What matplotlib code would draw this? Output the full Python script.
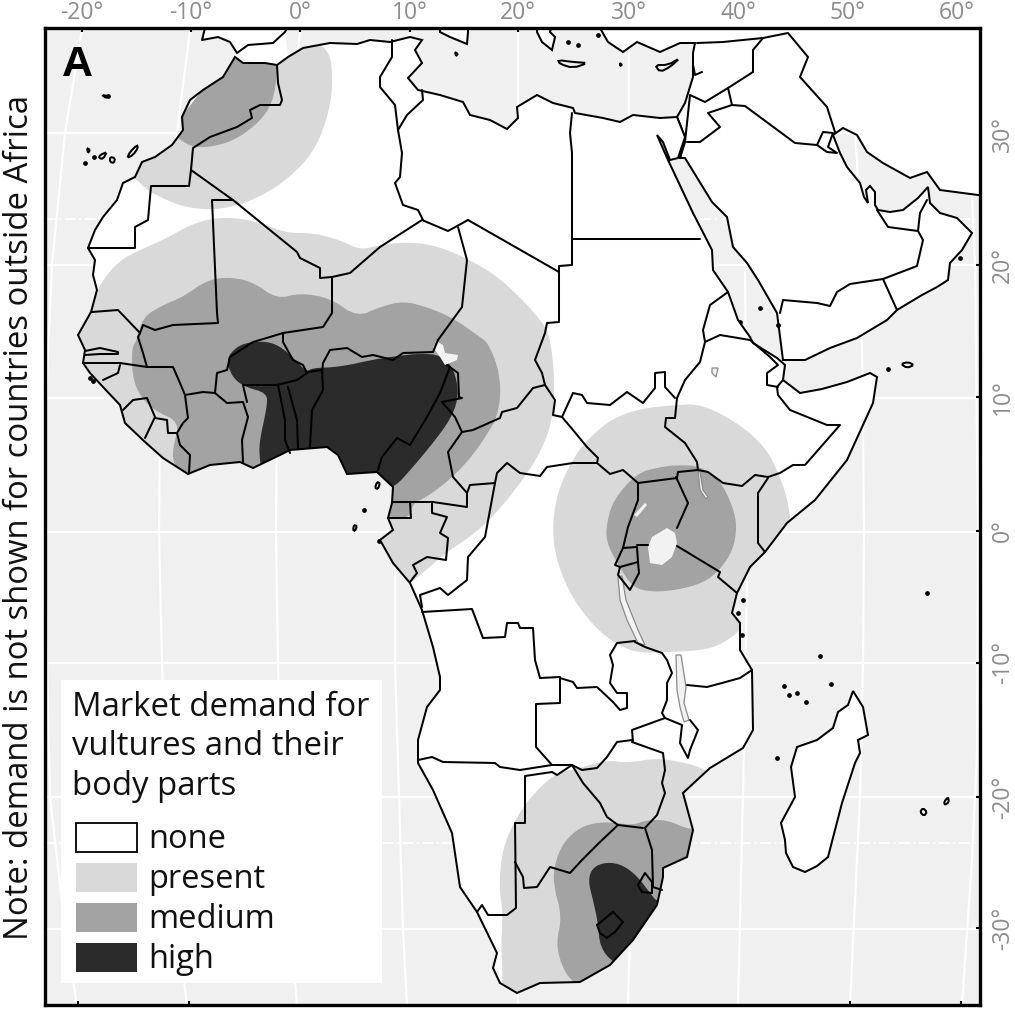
import matplotlib
matplotlib.use("Agg")
import matplotlib.pyplot as plt
from matplotlib.patches import Polygon, Rectangle

plt.rcParams['font.family'] = ['Open Sans', 'DejaVu Sans']

# ---------- map geometry, in the map's projected units (x east, y south) ----------
lon_labels = ['-20°', '-10°', '0°', '10°', '20°', '30°', '40°', '50°', '60°']
lon_top = [82, 191, 300, 410, 518, 629, 738, 847, 957]
lon_bottom = [78, 189, 300, 410, 518, 629, 738, 850, 961]
lat_labels = ['30°', '20°', '10°', '0°', '-10°', '-20°', '-30°']
lat_pos = [134, 265, 397, 531, 663, 797, 928]

meridians = [
    [(82, 30), (65, 133), (52, 265), (46, 397), (45, 532), (47, 663), (50, 797), (65, 929), (77, 1005)],
    [(190, 30), (177, 133), (166, 265), (160, 398), (159, 532), (162, 663), (168, 797), (178, 929), (187, 1005)],
    [(300, 30), (290, 133), (282, 265), (277, 398), (276, 532), (278, 663), (283, 797), (290, 929), (297, 1005)],
    [(410, 30), (400, 133), (395, 530), (395, 663), (403, 930), (407, 1005)],
    [(518, 30), (518, 1005)],
    [(629, 30), (629, 530), (630, 933), (628, 1005)],
    [(742, 30), (745, 263), (747, 580), (743, 793), (738, 1005)],
    [(847, 30), (857, 160), (862, 340), (864, 530), (863, 663), (860, 797), (850, 1005)],
    [(957, 30), (972, 197), (975, 263), (978, 530), (977, 753), (972, 860), (962, 1005)],
]
parallels = [133, 265, 398, 532, 663, 797, 929]
tropics = [219, 843]

coast_mediterranean = [(235, 57), (243, 63), (265, 63), (277, 65), (288, 57), (303, 48), (330, 43), (357, 44),
    (370, 40), (390, 42), (410, 37), (422, 40), (415, 50), (422, 63), (408, 78), (418, 90), (440, 95), (463, 102),
    (470, 115), (490, 120), (507, 129), (518, 118), (517, 107), (537, 95), (553, 103), (573, 108), (575, 113),
    (603, 118), (620, 122), (633, 115), (660, 118), (677, 117)]
coast_africa = [(235, 57), (223, 77), (203, 90), (190, 100), (182, 117), (183, 130), (172, 145), (155, 157), (142, 162),
    (135, 177), (123, 183), (117, 200), (103, 217), (95, 230), (88, 248), (95, 260), (93, 275), (97, 290), (91, 312),
    (78, 335), (85, 350), (83, 363), (90, 373), (103, 387), (120, 405), (125, 423), (145, 442), (163, 458), (188, 474),
    (210, 465), (240, 462), (253, 468), (280, 455), (290, 450), (327, 447), (338, 455), (347, 474), (377, 472),
    (393, 487), (392, 503), (388, 518), (393, 530), (380, 540), (393, 563), (410, 583), (422, 610), (433, 647),
    (440, 677), (440, 690), (427, 707), (418, 740), (418, 763), (433, 790), (452, 833), (460, 887), (477, 912),
    (497, 953), (493, 968), (500, 983), (517, 993), (540, 983), (580, 982), (610, 965), (633, 940), (657, 905),
    (663, 877), (663, 868), (687, 857), (693, 830), (683, 793), (710, 768), (743, 748), (753, 730), (752, 670),
    (740, 650), (740, 623), (732, 613), (737, 593), (750, 567), (765, 552), (787, 523), (815, 500), (847, 460),
    (873, 403), (877, 377), (870, 373), (847, 382), (822, 389), (800, 393), (783, 380), (785, 365), (777, 358),
    (753, 343), (750, 337), (738, 320), (728, 292), (713, 270), (712, 250), (693, 213), (668, 160), (657, 135),
    (663, 142), (670, 160), (678, 158), (685, 137), (677, 117)]
coast_asia = [(600, 28), (608, 42), (623, 52), (637, 42), (660, 52), (680, 43), (695, 43), (693, 53), (693, 77),
    (685, 103), (677, 117), (685, 137), (680, 158), (685, 158), (712, 202), (727, 217), (733, 247), (747, 263),
    (758, 280), (777, 313), (783, 360), (805, 360), (830, 348), (857, 338), (887, 320), (897, 310), (922, 295),
    (937, 287), (948, 280), (950, 263), (962, 250), (972, 233), (957, 218), (940, 213), (930, 203), (928, 187),
    (918, 198), (903, 210), (890, 212), (878, 210), (875, 205), (875, 192), (870, 186), (866, 190), (868, 203),
    (864, 197), (860, 183), (847, 167), (840, 153), (833, 135), (843, 128), (857, 135), (867, 152), (883, 163),
    (910, 178), (927, 172), (940, 190), (978, 195), (984, 195), (984, 24), (600, 24)]
iberia_fill = [(205, 24), (202, 40), (218, 37), (230, 42), (237, 53), (250, 62), (277, 65), (288, 57), (285, 32), (287, 24)]
iberia_coast = [(205, 28), (202, 40), (218, 37), (230, 42), (237, 53), (248, 45), (273, 43), (285, 32), (287, 28)]
sicily = [(440, 24), (440, 32), (450, 37), (467, 44), (468, 32), (468, 24)]
greece = [(537, 24), (537, 32), (542, 42), (552, 50), (555, 37), (550, 32), (552, 24)]
madagascar = [(853, 691), (863, 707), (868, 735), (858, 740), (860, 753), (855, 763), (842, 803), (828, 857), (817, 866),
    (805, 872), (793, 867), (786, 853), (785, 840), (781, 823), (795, 797), (791, 767), (797, 747), (817, 740),
    (833, 728), (838, 712), (848, 705)]
islands = [
    [(558, 60), (573, 62), (588, 63), (573, 68), (560, 64)],
    [(655, 65), (668, 65), (680, 58), (670, 67), (660, 72)],
    [(137, 145), (130, 152), (127, 158), (133, 155), (138, 148)],
    [(100, 155), (107, 152), (103, 159), (99, 158)],
    [(110, 157), (115, 158), (114, 163), (110, 162)],
    [(87, 148), (90, 150), (88, 153)],
    [(102, 95), (108, 96), (106, 98)],
    [(377, 482), (380, 483), (378, 489), (375, 488)],
    [(354, 525), (357, 526), (355, 531), (353, 530)],
    [(923, 808), (927, 812), (924, 816), (920, 812)],
    [(948, 797), (949, 802), (945, 805), (944, 802)],
    [(901, 364), (908, 362), (914, 365), (907, 368)],
    [(620, 63), (622, 65), (620, 66)],
    [(455, 52), (458, 54), (456, 56)],
]
dots = [(85, 163), (94, 157), (364, 510), (379, 541), (743, 600), (738, 613), (742, 635), (927, 593), (820, 656),
    (888, 369), (784, 686), (789, 695), (797, 693), (806, 702), (831, 684), (777, 758), (598, 35), (568, 42), (578, 45),
    (760, 308), (778, 325), (740, 322), (960, 258), (90, 378), (93, 381), (96, 378), (108, 96)]

# demand regions (clipped to the African coast)
present_north = [(330, 47), (333, 87), (327, 120), (313, 153), (290, 177), (267, 193), (240, 205), (213, 210), (183, 207),
    (160, 197), (147, 190), (135, 178), (120, 170), (170, 130), (235, 50), (300, 40)]
present_west = [(95, 303), (100, 283), (120, 260), (140, 250), (167, 238), (190, 225), (213, 218), (240, 218), (267, 225),
    (287, 233), (313, 233), (340, 240), (360, 250), (380, 245), (407, 242), (433, 245), (460, 255), (493, 273), (520, 297),
    (543, 323), (550, 337), (555, 380), (552, 423), (540, 453), (523, 480), (493, 517), (470, 537), (447, 552), (418, 577),
    (410, 583), (380, 580), (340, 490), (150, 480), (60, 340)]
present_east = [(677, 405), (697, 404), (720, 413), (747, 430), (767, 450), (778, 472), (787, 497), (790, 517), (800, 560),
    (760, 600), (742, 630), (717, 647), (693, 651), (667, 652), (647, 653), (627, 650), (600, 633), (573, 600), (557, 563),
    (552, 530), (557, 493), (573, 458), (590, 437), (613, 418), (643, 408)]
present_south = [(707, 770), (687, 763), (657, 758), (627, 763), (607, 760), (580, 768), (557, 773), (540, 787), (523, 807),
    (510, 830), (502, 853), (499, 887), (503, 913), (501, 947), (503, 977), (500, 1000), (680, 1000), (750, 800)]
medium_north = [(277, 60), (277, 67), (275, 93), (267, 113), (250, 130), (230, 142), (210, 147), (193, 147), (180, 140),
    (170, 130), (235, 50)]
medium_west = [(132, 347), (137, 340), (143, 317), (163, 305), (183, 297), (207, 280), (230, 277), (253, 282), (277, 299),
    (300, 293), (330, 298), (357, 317), (380, 307), (403, 301), (427, 307), (453, 318), (480, 337), (488, 343), (498, 367),
    (501, 393), (497, 417), (488, 433), (473, 455), (453, 477), (427, 497), (413, 503), (410, 518), (388, 518), (380, 525),
    (300, 510), (188, 490), (173, 463), (173, 447), (180, 422), (153, 410), (138, 393), (132, 373)]
medium_east = [(677, 465), (700, 466), (720, 480), (733, 507), (737, 527), (733, 550), (720, 570), (703, 583), (677, 590),
    (653, 592), (633, 588), (617, 563), (607, 543), (606, 527), (613, 500), (637, 473), (660, 467)]
medium_south = [(690, 830), (667, 820), (647, 820), (633, 825), (617, 823), (600, 822), (580, 827), (563, 843), (555, 863),
    (553, 883), (562, 917), (556, 943), (562, 967), (573, 983), (600, 995), (700, 900), (720, 830)]
high_west = [(227, 363), (230, 353), (243, 343), (267, 341), (283, 348), (297, 362), (307, 372), (312, 368), (340, 367),
    (380, 358), (433, 352), (450, 363), (457, 380), (458, 400), (450, 420), (433, 443), (413, 467), (395, 487), (380, 490),
    (350, 490), (300, 470), (262, 470), (260, 462), (259, 443), (267, 407), (267, 393), (245, 387), (233, 378)]
high_south = [(588, 880), (593, 867), (607, 862), (623, 865), (638, 877), (650, 893), (658, 903), (680, 900), (640, 975),
    (613, 963), (600, 947), (598, 923), (593, 900)]

lakes_light = [
    [(652, 537), (667, 528), (675, 533), (677, 543), (672, 557), (662, 565), (650, 563), (648, 547)],
    [(438, 342), (443, 345), (445, 353), (458, 355), (457, 360), (445, 365), (440, 357), (433, 347)],
    [(645, 503), (647, 505), (637, 517), (634, 515)],
]
lakes_outlined = [
    [(618, 577), (622, 576), (626, 600), (638, 630), (645, 645), (638, 643), (627, 620), (620, 600)],
    [(676, 655), (681, 655), (686, 687), (684, 703), (689, 720), (684, 722), (680, 707), (677, 690)],
    [(698, 470), (700, 472), (703, 490), (708, 497), (706, 499), (700, 490)],
    [(712, 368), (718, 368), (716, 377), (712, 373)],
]

borders_northwest = [
    [(277, 65), (278, 83), (282, 100), (280, 105), (260, 105), (250, 110), (252, 118), (237, 127), (210, 137), (193, 148), (191, 170)],
    [(191, 170), (189, 186), (151, 186), (148, 220), (135, 227), (135, 248), (88, 248)],
    [(191, 170), (233, 200), (297, 252), (300, 258), (320, 268), (320, 278), (332, 277), (350, 273), (380, 247), (422, 220), (448, 231), (468, 220)],
    [(233, 200), (212, 200), (217, 313), (218, 323), (173, 325), (155, 330), (143, 325), (140, 333), (118, 310), (92, 312)],
    [(332, 277), (332, 313), (323, 327), (283, 333), (270, 337), (253, 342), (230, 357), (227, 370), (217, 373), (215, 393)],
    [(458, 227), (467, 260), (462, 307), (438, 340)],
    [(468, 220), (559, 272), (559, 322), (547, 323), (545, 333), (535, 360), (542, 373), (545, 385)],
    [(572, 113), (570, 133), (572, 153), (572, 265), (559, 266), (559, 272)],
    [(572, 239), (700, 239)],
    [(398, 130), (402, 153), (400, 177), (395, 183), (403, 205), (418, 210), (423, 220)],
    [(398, 130), (395, 105), (380, 87), (380, 77), (392, 57), (392, 40)],
    [(398, 130), (407, 115), (423, 100), (422, 90)],
]
borders_west = [
    [(140, 333), (138, 337), (143, 353), (147, 367), (173, 367), (180, 383), (185, 395), (203, 392), (215, 393), (227, 403), (243, 402), (248, 417), (242, 440), (243, 462)],
    [(83, 363), (120, 363), (147, 367)],
    [(85, 351), (100, 348), (118, 352), (118, 354), (100, 354), (85, 355)],
    [(120, 365), (118, 373), (103, 380)],
    [(123, 410), (133, 400), (147, 398), (155, 417), (145, 438)],
    [(155, 418), (167, 420), (168, 433), (177, 433), (183, 423), (188, 418), (185, 395)],
    [(177, 433), (180, 445), (190, 455), (189, 473)],
    [(283, 333), (283, 342), (293, 360), (303, 365), (307, 373), (297, 380), (277, 385), (243, 385), (247, 402)],
    [(278, 385), (285, 420), (285, 440), (290, 453)],
    [(288, 387), (297, 420), (298, 448)],
    [(307, 372), (322, 370), (323, 390), (312, 410), (310, 447)],
    [(322, 373), (323, 363), (330, 350), (347, 348), (362, 357), (373, 355), (393, 360), (403, 353), (433, 352), (438, 340)],
]
borders_central = [
    [(450, 367), (440, 393), (427, 417), (410, 445), (397, 438), (382, 457), (378, 470)],
    [(447, 365), (458, 373), (459, 397), (462, 398), (442, 402), (455, 417), (462, 432)],
    [(462, 432), (473, 430), (500, 418), (502, 412), (517, 408), (533, 388), (545, 385), (555, 400), (553, 415), (562, 417)],
    [(462, 432), (448, 452), (453, 477), (467, 493), (467, 507), (433, 502), (393, 502)],
    [(392, 502), (410, 502), (411, 518), (388, 518)],
    [(432, 503), (432, 513), (447, 517), (440, 533), (448, 538), (446, 560), (427, 557), (413, 565), (417, 573), (410, 582)],
    [(467, 493), (470, 485), (495, 483), (497, 473), (507, 463), (520, 473), (540, 476), (547, 467), (573, 463), (597, 463), (610, 474), (623, 470), (638, 483), (677, 478)],
    [(495, 483), (485, 537), (468, 557), (467, 580), (448, 595), (440, 588), (420, 595), (422, 607)],
    [(422, 612), (472, 609), (483, 638), (505, 637), (507, 623), (518, 623), (520, 628), (533, 628), (535, 660), (540, 678), (560, 677), (560, 703), (536, 704), (536, 747), (552, 765)],
    [(635, 641), (617, 643), (610, 655), (613, 665), (610, 683), (617, 693), (627, 693), (627, 708), (620, 710), (613, 702), (597, 687), (577, 688), (573, 682), (560, 678)],
    [(562, 417), (573, 393), (582, 395), (587, 403), (610, 405), (627, 392), (643, 403), (655, 388), (655, 373), (665, 372), (665, 387), (675, 398)],
    [(562, 417), (573, 430), (587, 447), (598, 458), (597, 463)],
]
borders_east = [
    [(638, 483), (638, 500), (628, 527), (623, 548), (615, 565), (620, 567), (638, 562), (637, 547), (623, 548)],
    [(620, 567), (618, 575), (630, 590), (639, 573), (638, 562)],
    [(637, 545), (648, 545)],
    [(677, 546), (720, 572), (718, 577), (737, 593)],
    [(677, 478), (678, 472), (698, 470), (708, 472), (723, 483), (742, 486), (755, 475), (768, 477), (780, 473), (793, 465), (805, 465), (840, 425), (827, 425), (790, 410), (778, 395), (777, 387), (783, 380)],
    [(676, 477), (688, 503), (677, 528)],
    [(768, 478), (758, 493), (758, 543), (765, 552)],
    [(698, 470), (697, 462), (685, 443), (665, 427), (666, 418), (675, 418), (677, 398), (685, 380), (700, 362), (705, 342)],
    [(728, 292), (710, 305), (703, 330), (705, 342), (720, 335), (750, 340), (770, 357), (778, 365), (767, 373), (767, 385), (778, 387)],
    [(635, 642), (645, 647), (662, 653), (667, 660), (672, 673), (667, 683), (667, 700), (662, 713), (665, 718)],
    [(665, 718), (632, 730), (633, 742)],
    [(665, 718), (682, 725), (680, 743), (688, 758), (690, 750), (698, 730), (690, 720)],
    [(687, 685), (707, 687), (722, 683), (740, 678), (752, 670)],
]
borders_south = [
    [(632, 740), (617, 742), (607, 757), (597, 768), (582, 770), (572, 765), (552, 765), (520, 770), (500, 767), (495, 763), (443, 762), (432, 757), (418, 760)],
    [(572, 765), (557, 775), (552, 772), (525, 776), (525, 823), (515, 823), (516, 908), (507, 915), (488, 915), (482, 905), (477, 912)],
    [(515, 862), (523, 877), (524, 888), (537, 887), (550, 867), (570, 873), (582, 860), (600, 842), (618, 825)],
    [(572, 765), (583, 783), (600, 803), (607, 817), (618, 825), (643, 828)],
    [(632, 742), (663, 753), (665, 770), (662, 783), (665, 793), (657, 815), (645, 828), (652, 850), (653, 887), (662, 890)],
    [(597, 925), (613, 912), (623, 922), (615, 932), (607, 938), (600, 933), (597, 925)],
    [(638, 885), (645, 873), (652, 882), (652, 893), (642, 892), (638, 885)],
]
borders_arabia = [
    [(697, 43), (723, 42), (763, 38), (788, 33), (808, 57), (800, 77), (827, 107), (835, 132)],
    [(763, 38), (753, 50), (753, 72), (728, 88), (705, 102), (690, 95), (685, 142), (680, 158)],
    [(728, 88), (732, 105), (708, 113), (720, 127), (700, 142), (687, 142)],
    [(732, 105), (745, 106), (795, 143), (817, 145), (823, 132), (833, 133), (828, 147), (837, 153), (827, 152), (817, 145)],
    [(702, 72), (695, 75), (693, 65)],
    [(877, 210), (888, 227), (918, 231), (920, 213), (927, 200)],
    [(918, 231), (923, 240), (917, 266), (883, 279), (850, 284), (837, 292), (830, 306), (817, 303), (783, 300), (780, 313)],
    [(883, 279), (897, 310)],
]

legend_title = 'Market demand for\nvultures and their\nbody parts'
legend_labels = ['none', 'present', 'medium', 'high']
side_note = 'Note: demand is not shown for countries outside Africa'

SEA, PRESENT, MEDIUM, HIGH = '#f0f0f0', '#d9d9d9', '#a3a3a3', '#2b2b2b'
LW = 1.45


def rounded(poly, passes=2):
    """Round the corners of a hand-read outline so that region edges read as curves."""
    for _ in range(passes):
        out = []
        for i, (x0, y0) in enumerate(poly):
            x1, y1 = poly[(i + 1) % len(poly)]
            out.append((0.75 * x0 + 0.25 * x1, 0.75 * y0 + 0.25 * y1))
            out.append((0.25 * x0 + 0.75 * x1, 0.25 * y0 + 0.75 * y1))
        poly = out
    return poly


# ---------- drawing ----------
fig = plt.figure(figsize=(10.15, 10.14), dpi=100)
ax = fig.add_axes([45 / 1015, 1 - 1005 / 1014, 935 / 1015, 977 / 1014], facecolor=SEA)
ax.set_xlim(45, 980)
ax.set_ylim(1005, 28)


def line(pts, **kw):
    ax.plot([p[0] for p in pts], [p[1] for p in pts], solid_joinstyle='round', solid_capstyle='round', **kw)


for m in meridians:
    line(m, color='white', lw=1.6, zorder=1)
for y in parallels:
    ax.axhline(y, color='white', lw=1.6, zorder=1)
for y in tropics:
    ax.axhline(y, color='white', lw=1.3, ls=(0, (6, 2, 1, 2)), zorder=1)

africa_pts = coast_africa + coast_mediterranean[::-1]
ax.add_patch(Polygon(iberia_fill, closed=True, fc='white', ec='none', zorder=2))
line(iberia_coast, color='black', lw=LW, zorder=6)
for poly in (sicily, greece, coast_asia):
    ax.add_patch(Polygon(poly, closed=True, fc='white', ec='black', lw=LW, zorder=2))
ax.add_patch(Polygon(madagascar, closed=True, fc='white', ec='black', lw=LW, zorder=2))
for poly in islands:
    ax.add_patch(Polygon(rounded(poly, 1), closed=True, fc=SEA, ec='black', lw=LW, zorder=2))
ax.plot([p[0] for p in dots], [p[1] for p in dots], 'o', color='black', ms=2.4, zorder=2)

africa_fill = Polygon(africa_pts, closed=True, fc='white', ec='none', zorder=2)
ax.add_patch(africa_fill)

for polys, col, z in (((present_north, present_west, present_east, present_south), PRESENT, 3),
                      ((medium_north, medium_west, medium_east, medium_south), MEDIUM, 4),
                      ((high_west, high_south), HIGH, 5)):
    for poly in polys:
        p = Polygon(rounded(poly), closed=True, fc=col, ec='none', zorder=z)
        ax.add_patch(p)
        p.set_clip_path(africa_fill)

for poly in lakes_light:
    ax.add_patch(Polygon(poly, closed=True, fc='#f2f2f2', ec='none', zorder=6))
for poly in lakes_outlined:
    ax.add_patch(Polygon(poly, closed=True, fc='#f2f2f2', ec='#8a8a8a', lw=0.9, zorder=6))

for group in (borders_northwest, borders_west, borders_central, borders_east, borders_south, borders_arabia):
    for b in group:
        line(b, color='black', lw=LW, zorder=7)
ax.add_patch(Polygon(africa_pts, closed=True, fc='none', ec='black', lw=LW, zorder=7))

# axes furniture
GREY = '#8c8c8c'
ax.set_xticks(lon_top, lon_labels)
ax.set_xticks(lon_bottom, minor=True)
ax.set_yticks(lat_pos, lat_labels)
ax.tick_params(axis='x', which='major', top=True, bottom=False, labeltop=True, labelbottom=False,
               direction='in', length=3, width=1.5, pad=2, labelsize=16.5, labelcolor=GREY)
ax.tick_params(axis='x', which='minor', top=False, bottom=True, direction='in', length=3, width=1.5)
ax.tick_params(axis='y', left=False, right=True, labelleft=False, labelright=True, direction='in',
               length=3, width=1.5, pad=8, labelsize=16.5, labelcolor=GREY)
for t in ax.get_yticklabels():
    t.set_rotation(90)
    t.set_va('center')
for s in ax.spines.values():
    s.set_linewidth(2.4)
    s.set_zorder(20)

ax.text(77, 65, 'A', fontsize=31, fontweight='bold', family='Liberation Sans', ha='center', va='center', zorder=12)

# legend
ax.add_patch(Rectangle((61, 680), 321, 303, fc='white', ec='none', zorder=10))
ax.text(72, 747, legend_title, fontsize=23.7, ha='left', va='center', linespacing=1.25, zorder=11, color='#111111')
swatches = [('white', 'black'), (PRESENT, 'none'), (MEDIUM, 'none'), (HIGH, 'none')]
sw_top = [823, 863, 903, 943]
for (fc, ec), top, lab in zip(swatches, sw_top, legend_labels):
    ax.add_patch(Rectangle((76, top), 61, 29, fc=fc, ec=ec, lw=1.3, zorder=11))
    ax.text(148, top + 16, lab, fontsize=23.5, ha='left', va='center', zorder=11, color='#111111')

fig.text(20 / 1015, 1 - 517 / 1014, side_note, rotation=90, fontsize=23.7, ha='center', va='center', color='#111111')

fig.savefig('out.png', dpi=100)
